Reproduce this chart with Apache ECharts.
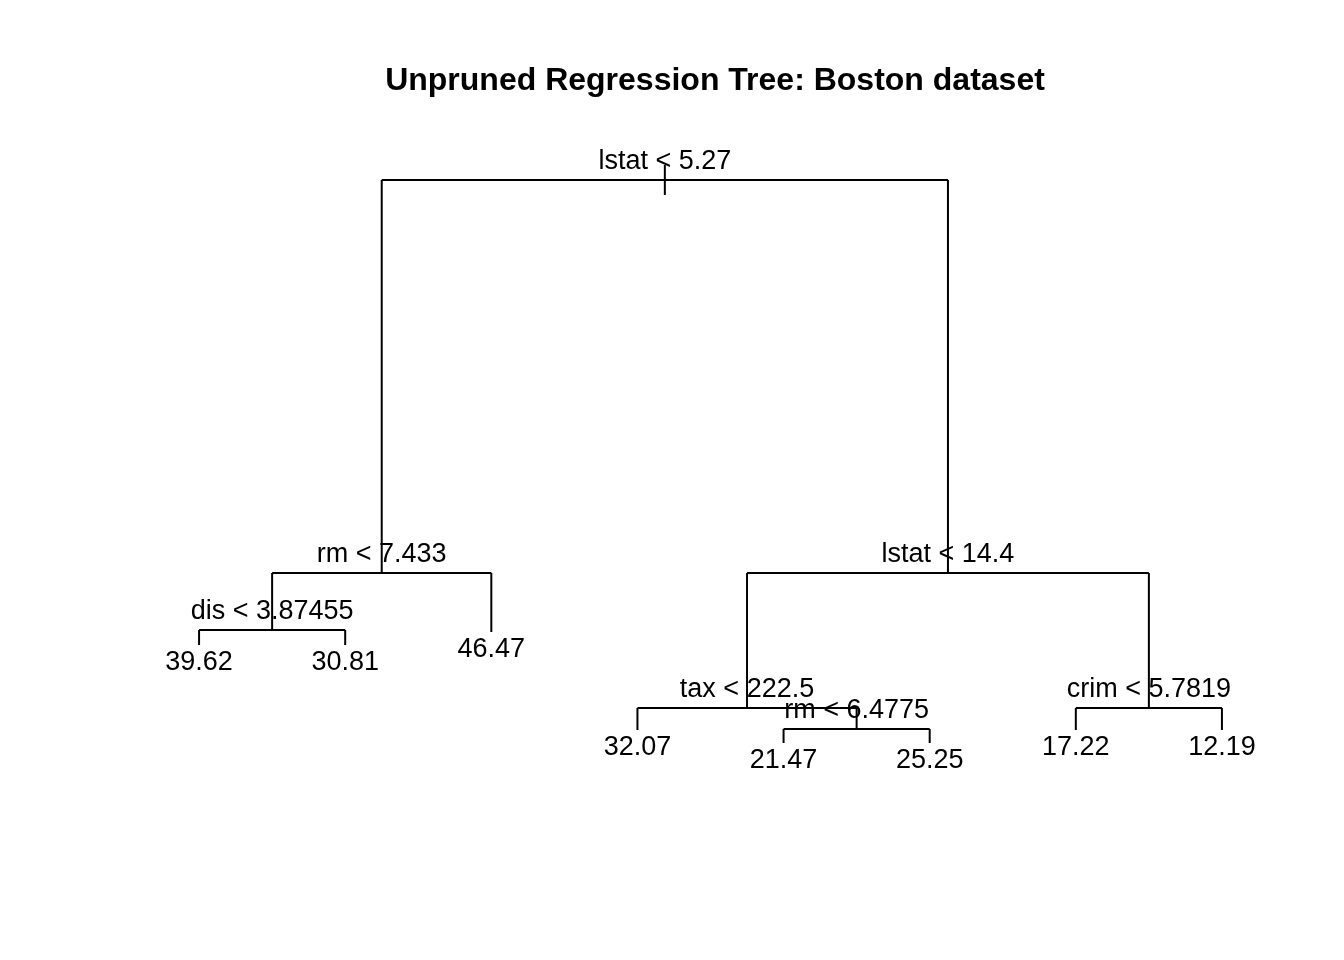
<!DOCTYPE html>
<html><head><meta charset="utf-8">
<script src="https://cdn.jsdelivr.net/npm/echarts@6/dist/echarts.min.js"></script>
<style>html,body{margin:0;padding:0;background:#fff}#c{width:1344px;height:960px}</style>
</head><body><div id="c"></div>
<script>
// Tree nodes: label, parent index (-1 root), leaf order (leaves only), node height (deviance-like)
const nodeLabels = ["lstat < 5.27","rm < 7.433","dis < 3.87455","39.62","30.81","46.47","lstat < 14.4","tax < 222.5","32.07","rm < 6.4775","21.47","25.25","crim < 5.7819","17.22","12.19"];
const nodeParents = [-1,0,1,2,2,1,0,6,7,7,9,9,6,12,12];
const leafOrder = [null,null,null,1,2,3,null,null,4,null,5,6,null,7,8];
const nodeHeights = [56.5,17.2,11.5,10.0,10.0,11.3,17.2,3.7,1.5,1.6,0.2,0.2,3.7,1.5,1.5];

const n = nodeLabels.length;
const children = nodeLabels.map(()=>[]);
nodeParents.forEach((p,i)=>{ if(p>=0) children[p].push(i); });
const xs = new Array(n);
function getX(i){ if(leafOrder[i]!=null) return xs[i]=leafOrder[i]; const c=children[i].map(getX); return xs[i]=(c[0]+c[1])/2; }
getX(0);

const segs = [];
for(let i=0;i<n;i++){
  const p = nodeParents[i];
  if(p>=0) segs.push([xs[i],nodeHeights[p],xs[i],nodeHeights[i]]);
  else segs.push([xs[i],nodeHeights[i]+1.5,xs[i],nodeHeights[i]-1.5]);
  if(children[i].length){ const c=children[i]; segs.push([xs[c[0]],nodeHeights[i],xs[c[1]],nodeHeights[i]]); }
}
const font = "Liberation Sans, Arial, sans-serif";
const chart = echarts.init(document.getElementById('c'));
chart.setOption({
  animation:false,
  title:{text:"Unpruned Regression Tree: Boston dataset",left:710,top:60,textAlign:'center',
    textStyle:{fontFamily:font,fontSize:32,fontWeight:'bold',color:'#000'}},
  grid:{left:126,right:49,top:145,bottom:165},
  xAxis:{type:'value',min:0.5,max:8.5,show:false},
  yAxis:{type:'value',min:-5,max:60,show:false},
  series:[{
    type:'custom',
    data:segs,
    renderItem:(params,api)=>{
      const a=api.coord([api.value(0),api.value(1)]), b=api.coord([api.value(2),api.value(3)]);
      return {type:'line',shape:{x1:a[0],y1:a[1],x2:b[0],y2:b[1]},style:{stroke:'#000',lineWidth:2}};
    }
  },{
    type:'custom',
    data:nodeLabels.map((l,i)=>[xs[i],nodeHeights[i],children[i].length?1:0,l]),
    renderItem:(params,api)=>{
      const a=api.coord([api.value(0),api.value(1)]);
      const internal=api.value(2)===1;
      return {type:'text',style:{text:nodeLabels[params.dataIndex],x:a[0],y:internal?a[1]-18:a[1]+18,
        align:'center',verticalAlign:'middle',font:'27px '+font,fill:'#000'}};
    }
  }]
});
</script></body></html>
